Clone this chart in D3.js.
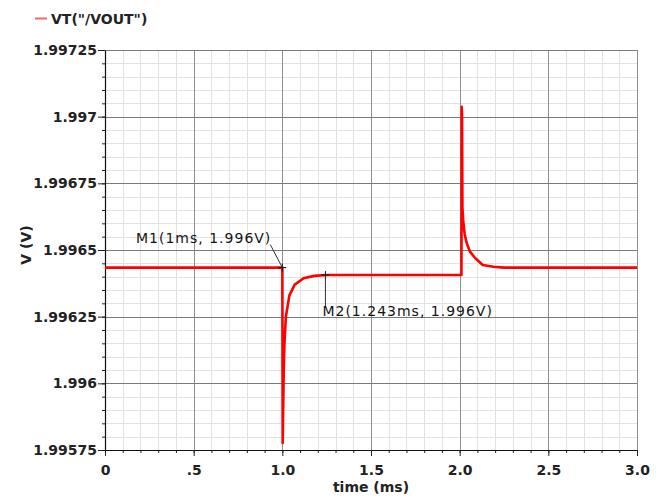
<!DOCTYPE html>
<html>
<head>
<meta charset="utf-8">
<script src="https://cdn.jsdelivr.net/npm/d3@7"></script>
<style>
  body { margin: 0; background: #ffffff; }
  svg { display: block; }
</style>
</head>
<body>
<svg id="chart" width="665" height="498"></svg>
<script>
// Transient response of VOUT (time in ms, voltage in V)
const timeMs = [0, 1.000, 1.002, 1.008, 1.012, 1.020, 1.040, 1.070, 1.120, 1.180, 1.250,
                2.010, 2.0115, 2.0135, 2.0155, 2.020, 2.028, 2.040, 2.058, 2.087, 2.130, 2.190, 2.250, 3.0];
const vout   = [1.996434, 1.996434, 1.995776, 1.996050, 1.996150, 1.996250, 1.996330, 1.996370,
                1.996394, 1.996403, 1.996406,
                1.996406, 1.997037, 1.997000, 1.996660, 1.996610, 1.996560, 1.996525, 1.996494,
                1.996470, 1.996444, 1.996437, 1.996434, 1.996434];

const xTicks = [0, 0.5, 1, 1.5, 2, 2.5, 3];
const xTickLabels = ["0", ".5", "1.0", "1.5", "2.0", "2.5", "3.0"];
const yTicks = [1.99575, 1.996, 1.99625, 1.9965, 1.99675, 1.997, 1.99725];
const yTickLabels = ["1.99575", "1.996", "1.99625", "1.9965", "1.99675", "1.997", "1.99725"];

const markerNames  = ["M1", "M2"];
const markerTimes  = [1.0, 1.243];
const markerValues = [1.996434, 1.996406];

const seriesName = 'VT("/VOUT")';
const xTitle = "time (ms)";
const yTitle = "V (V)";

const W = 665, H = 498;
const margin = { top: 50, right: 28, bottom: 48, left: 105 };
const svg = d3.select("#chart");

const x = d3.scaleLinear().domain([0, 3]).range([margin.left, W - margin.right]);
const y = d3.scaleLinear().domain([1.99575, 1.99725]).range([H - margin.bottom, margin.top]);

const FONT = "'DejaVu Sans', Verdana, sans-serif";
const TEXT = "#222222";

// minor grid
const xMinor = d3.range(0, 31).map(i => i / 10);
const yMinor = d3.range(0, 31).map(i => 1.99575 + i * 0.00005);
const grid = svg.append("g").attr("shape-rendering", "crispEdges");
grid.selectAll("line.xm").data(xMinor).join("line")
  .attr("x1", d => Math.round(x(d)) + 0.5).attr("x2", d => Math.round(x(d)) + 0.5)
  .attr("y1", y.range()[1]).attr("y2", y.range()[0])
  .attr("stroke", "#e2e2e2").attr("stroke-width", 1);
grid.selectAll("line.ym").data(yMinor).join("line")
  .attr("y1", d => Math.round(y(d)) + 0.5).attr("y2", d => Math.round(y(d)) + 0.5)
  .attr("x1", x.range()[0]).attr("x2", x.range()[1])
  .attr("stroke", "#e2e2e2").attr("stroke-width", 1);

// major grid
grid.selectAll("line.xM").data(xTicks).join("line")
  .attr("x1", d => Math.round(x(d)) + 0.5).attr("x2", d => Math.round(x(d)) + 0.5)
  .attr("y1", y.range()[1]).attr("y2", y.range()[0])
  .attr("stroke", "#8f8f8f").attr("stroke-width", 1);
grid.selectAll("line.yM").data(yTicks).join("line")
  .attr("y1", d => Math.round(y(d)) + 0.5).attr("y2", d => Math.round(y(d)) + 0.5)
  .attr("x1", x.range()[0]).attr("x2", x.range()[1])
  .attr("stroke", "#7a7a7a").attr("stroke-width", 1);

// minor axis ticks
svg.append("g")
  .attr("transform", `translate(${margin.left},0)`)
  .call(d3.axisLeft(y).tickValues(yMinor).tickSize(3).tickFormat("").tickSizeOuter(0))
  .call(g => g.select(".domain").remove())
  .selectAll("line").attr("stroke", "#222");
svg.append("g")
  .attr("transform", `translate(0,${H - margin.bottom})`)
  .call(d3.axisBottom(x).tickValues(xMinor).tickSize(3).tickFormat("").tickSizeOuter(0))
  .call(g => g.select(".domain").remove())
  .selectAll("line").attr("stroke", "#222");

// main axes
const yAxis = svg.append("g")
  .attr("transform", `translate(${margin.left},0)`)
  .call(d3.axisLeft(y).tickValues(yTicks).tickFormat((d, i) => yTickLabels[i])
        .tickSize(7).tickPadding(1).tickSizeOuter(0));
const xAxis = svg.append("g")
  .attr("transform", `translate(0,${H - margin.bottom})`)
  .call(d3.axisBottom(x).tickValues(xTicks).tickFormat((d, i) => xTickLabels[i])
        .tickSize(6).tickPadding(9).tickSizeOuter(0));
[yAxis, xAxis].forEach(g => {
  g.attr("font-family", FONT).attr("font-size", 14).attr("font-weight", "bold");
  g.select(".domain").attr("stroke", "#111").attr("stroke-width", 1.2);
  g.selectAll(".tick line").attr("stroke", "#222");
  g.selectAll(".tick text").attr("fill", TEXT);
});

// waveform
const line = d3.line().x((d, i) => x(timeMs[i])).y(d => y(d));
svg.append("path")
  .datum(vout)
  .attr("d", line)
  .attr("fill", "none")
  .attr("stroke", "#ff0000")
  .attr("stroke-width", 2.6)
  .attr("stroke-linejoin", "round");

// markers
const mk = svg.append("g").attr("font-family", FONT).attr("font-size", 14)
  .attr("letter-spacing", "1px").attr("fill", "#141414");
markerNames.forEach((name, i) => {
  const mx = x(markerTimes[i]), my = y(markerValues[i]);
  const label = `${name}(${d3.format("~g")(markerTimes[i])}ms, ${markerValues[i].toFixed(3)}V)`;
  mk.append("path")
    .attr("d", `M${mx - 4},${my}H${mx + 4}M${mx},${my - 4}V${my + 4}`)
    .attr("stroke", "#111").attr("stroke-width", 1);
  if (i === 0) {
    mk.append("line").attr("x1", mx - 12).attr("y1", my - 23).attr("x2", mx).attr("y2", my)
      .attr("stroke", "#333").attr("stroke-width", 1);
    mk.append("text").attr("x", mx - 11).attr("y", my - 25)
      .attr("text-anchor", "end").text(label);
  } else {
    mk.append("line").attr("x1", mx).attr("y1", my).attr("x2", mx).attr("y2", my + 31)
      .attr("stroke", "#333").attr("stroke-width", 1);
    mk.append("text").attr("x", mx - 3).attr("y", my + 41).text(label);
  }
});

// legend
svg.append("line").attr("x1", 35).attr("x2", 47).attr("y1", 18.5).attr("y2", 18.5)
  .attr("stroke", "#f06868").attr("stroke-width", 2);
svg.append("text").attr("x", 51).attr("y", 23.5)
  .attr("font-family", FONT).attr("font-size", 14).attr("font-weight", "bold")
  .attr("fill", TEXT).text(seriesName);

// axis titles
svg.append("text").attr("x", (x.range()[0] + x.range()[1]) / 2).attr("y", 492)
  .attr("text-anchor", "middle").attr("font-family", FONT).attr("font-size", 14)
  .attr("font-weight", "bold").attr("fill", TEXT).text(xTitle);
svg.append("text").attr("transform", `translate(31,245) rotate(-90)`)
  .attr("text-anchor", "middle").attr("font-family", FONT).attr("font-size", 14)
  .attr("font-weight", "bold").attr("fill", TEXT).text(yTitle);
</script>
</body>
</html>
